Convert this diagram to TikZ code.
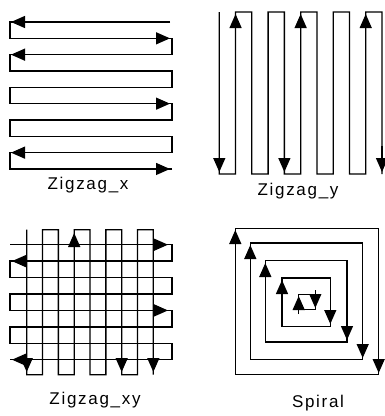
\documentclass[tikz,border=0pt]{standalone}
\usepackage{fontspec}
\setmainfont{Liberation Sans}
\usetikzlibrary{arrows.meta}
\tikzset{
  ln/.style={line width=1.3pt, line join=miter},
  ar/.style={line width=1.3pt, -{Triangle[length=14pt,width=12pt]}},
  lbl/.style={font=\fontsize{17}{17}\selectfont\addfontfeature{LetterSpace=10}, inner sep=0pt}
}
\begin{document}
\begin{tikzpicture}[x=1pt,y=-1pt]
\useasboundingbox (0,0) rectangle (385,416);
% ---------- Zigzag_x ----------
\def\dy{16.33}
\draw[ln] (170,22)
  \foreach \k in {0,2,4,6,8}{
    -- (10,{22+\k*\dy}) -- (10,{22+(\k+1)*\dy}) -- (172,{22+(\k+1)*\dy})
    \ifnum\k<8 -- (172,{22+(\k+2)*\dy}) \fi
  };
\draw[ln] (172,{22+9*\dy}) -- (170,{22+9*\dy});
\foreach \k in {0,2,8}{\draw[ar] (34,{22+\k*\dy}) -- (11,{22+\k*\dy});}
\foreach \k in {1,5,9}{\draw[ar] (146,{22+\k*\dy}) -- (170,{22+\k*\dy});}
\node[lbl] (tx) at (88,185) {Zigzag\_x};
% ---------- Zigzag_y ----------
\def\dx{16.27}
\draw[ln] (219.3,12)
  \foreach \k in {0,2,4,6,8}{
    -- ({219.3+\k*\dx},174) -- ({219.3+(\k+1)*\dx},174) -- ({219.3+(\k+1)*\dx},12)
    -- ({219.3+(\k+2)*\dx},12)
  } -- (382,174);
\foreach \k in {0,4,10}{\draw[ar] ({219.3+\k*\dx},146) -- ({219.3+\k*\dx},172);}
\foreach \k in {1,5,9}{\draw[ar] ({219.3+\k*\dx},40) -- ({219.3+\k*\dx},14);}
\node[lbl] (ty) at (298,191) {Zigzag\_y};
% ---------- Zigzag_xy ----------
\def\hy{16.43}
\def\vx{15.83}
\draw[ln] (10,244.7)
  \foreach \k in {0,2,4,6}{
    -- (172,{244.7+\k*\hy}) -- (172,{244.7+(\k+1)*\hy}) -- (10,{244.7+(\k+1)*\hy})
    \ifnum\k<6 -- (10,{244.7+(\k+2)*\hy}) \fi
  };
\draw[ln] (26.7,229.7)
  \foreach \k in {0,2,4,6}{
    -- ({26.7+\k*\vx},374.7) -- ({26.7+(\k+1)*\vx},374.7) -- ({26.7+(\k+1)*\vx},229.7)
    -- ({26.7+(\k+2)*\vx},229.7)
  } -- (153.3,374.7);
\foreach \k in {0,4}{\draw[ar] (144,{244.7+\k*\hy}) -- (168,{244.7+\k*\hy});}
\foreach \k in {1,7}{\draw[ar] (36,{244.7+\k*\hy}) -- (12,{244.7+\k*\hy});}
\foreach \k in {0,6,8}{\draw[ar] ({26.7+\k*\vx},348) -- ({26.7+\k*\vx},372);}
\draw[ar] ({26.7+3*\vx},257) -- ({26.7+3*\vx},233);
\node[lbl] (txy) at (95,400) {Zigzag\_xy};
% ---------- Spiral ----------
\draw[ln] (235.3,228.7) rectangle (378.7,374.7);
\draw[ln] (250.3,243) rectangle (362.7,359.7);
\draw[ln] (265.3,260.7) rectangle (347,342);
\draw[ln] (282,278) rectangle (330.3,326.3);
\draw[ln] (298.7,294.7) rectangle (315.3,309.7);
\draw[ar] (235.3,254) -- (235.3,230);
\draw[ar] (250.3,269) -- (250.3,245);
\draw[ar] (265.3,287) -- (265.3,263);
\draw[ar] (282,304) -- (282,280);
\draw[ar] (378.7,348) -- (378.7,373);
\draw[ar] (362.7,334) -- (362.7,358);
\draw[ar] (347,316) -- (347,340);
\draw[ar] (330.3,300) -- (330.3,324);
\draw[ar] (298.7,314) -- (298.7,296);
\draw[ar] (315.3,290) -- (315.3,308);
\node[lbl] (ts) at (318,403) {Spiral};
\end{tikzpicture}
\end{document}
